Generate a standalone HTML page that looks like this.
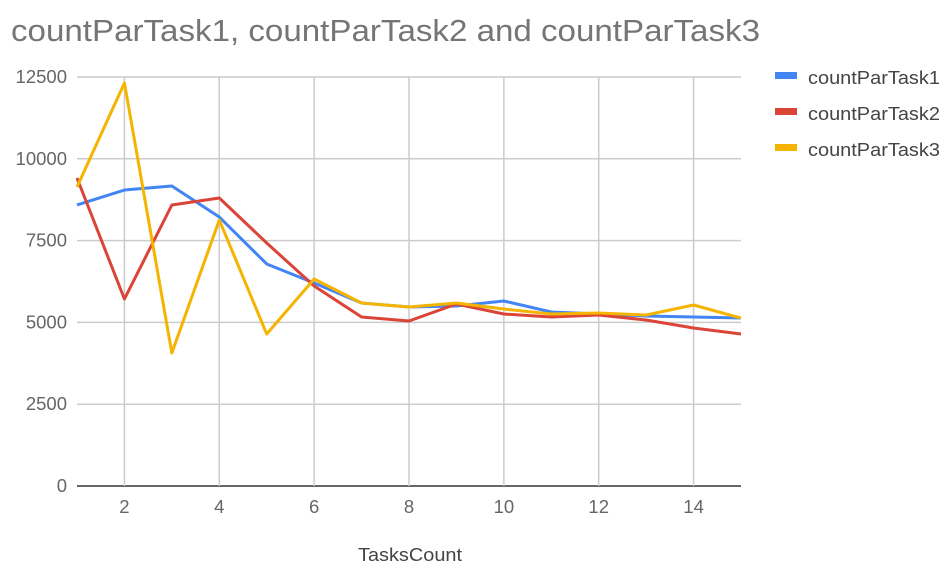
<!DOCTYPE html>
<html><head><meta charset="utf-8"><style>
body{margin:0;background:#fff;font-family:"Liberation Sans",sans-serif;}
svg{display:block}
</style></head><body>
<svg id="chart" width="952" height="574">
<text x="11" y="41" font-size="31" fill="#757575" textLength="749" lengthAdjust="spacingAndGlyphs">countParTask1, countParTask2 and countParTask3</text>
<g id="grid"></g><g id="series"></g><g id="legend"></g>
<text x="410" y="561" font-size="18" fill="#444" text-anchor="middle" textLength="104" lengthAdjust="spacingAndGlyphs">TasksCount</text>
</svg>
<script>
const categories=[1,2,3,4,5,6,7,8,9,10,11,12,13,14,15];
const task1=[8590,9046,9169,8221,6785,6204,5593,5470,5501,5654,5318,5257,5196,5165,5134];
const task2=[9413,5715,8588,8802,7427,6112,5165,5043,5562,5257,5165,5226,5073,4829,4645];
const task3=[9138,12317,4065,8130,4645,6326,5593,5470,5593,5409,5257,5287,5226,5532,5134];
const yTicks=[0,2500,5000,7500,10000,12500];
const xTicks=[2,4,6,8,10,12,14];
const seriesNames=["countParTask1","countParTask2","countParTask3"];
const colors=["#4285f4","#db4437","#f4b400"];
const NS="http://www.w3.org/2000/svg";
const X0=77,X1=741,Y0=486,Y1=77;
const xs=v=>X0+(v-1)/(15-1)*(X1-X0);
const ys=v=>Y0-v/12500*(Y0-Y1);
function mk(t,a,p){const e=document.createElementNS(NS,t);for(const k in a)e.setAttribute(k,a[k]);p.appendChild(e);return e;}
const grid=document.getElementById('grid');
yTicks.forEach(t=>{
 const l=mk('line',{x1:X0,x2:X1,y1:ys(t),y2:ys(t),stroke:t===0?'#333':'#ccc','stroke-width':1.5},grid);
 
 
 const tx=mk('text',{x:67,y:ys(t)+6,'font-size':18.5,fill:'#666','text-anchor':'end'},grid);
 tx.textContent=t;
 
 
});
xTicks.forEach(t=>{
 const l=mk('line',{x1:xs(t),x2:xs(t),y1:Y1,y2:Y0,stroke:'#ccc','stroke-width':1.5},grid);
 
 
 const tx=mk('text',{x:xs(t),y:513,'font-size':18.5,fill:'#666','text-anchor':'middle'},grid);
 tx.textContent=t;
 
 
});
const ser=document.getElementById('series');
[task1,task2,task3].forEach((d,i)=>{
 const p=mk('polyline',{points:d.map((v,j)=>xs(categories[j])+','+ys(v)).join(' '),fill:'none',stroke:colors[i],'stroke-width':3,'stroke-linejoin':'round'},ser);
 
 
});
const leg=document.getElementById('legend');
seriesNames.forEach((n,i)=>{
 const g=mk('g',{},leg);
 
 
 mk('rect',{x:775,y:72+i*36,width:22,height:7,fill:colors[i]},g);
 const t=mk('text',{x:808,y:84+i*36,'font-size':18,fill:'#444',textLength:132,lengthAdjust:'spacingAndGlyphs'},g);
 t.textContent=n;
});
</script>
</body></html>
